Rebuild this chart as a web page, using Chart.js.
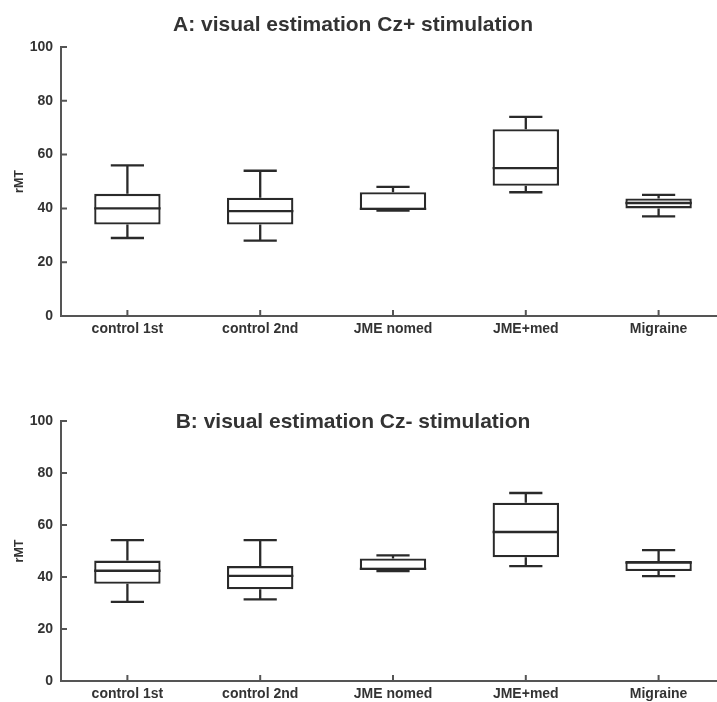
<!DOCTYPE html>
<html>
<head>
<meta charset="utf-8">
<title>rMT visual estimation</title>
<script src="https://cdn.jsdelivr.net/npm/chart.js@4.4.0/dist/chart.umd.min.js"></script>
<style>
  html, body { margin: 0; padding: 0; background: #fff; }
  #wrap { width: 717px; height: 702px; overflow: hidden; position: relative; }
  .panel { width: 725px; height: 351px; }
  canvas { display: block; }
</style>
</head>
<body>
<div id="wrap">
  <div class="panel"><canvas id="chartA" width="725" height="351"></canvas></div>
  <div class="panel"><canvas id="chartB" width="725" height="351"></canvas></div>
</div>
<script>
// Groups and axis ticks
const groups = ['control 1st', 'control 2nd', 'JME nomed', 'JME+med', 'Migraine'];
const yTicks = [0, 20, 40, 60, 80, 100];

// A: Cz+ stimulation
const minA = [29, 28, 39.2, 46, 37];
const q1A = [34, 34, 39.4, 48.4, 40];
const medA = [40, 39, 39.8, 55, 42];
const q3A = [45.4, 44, 46, 69.4, 43.7];
const maxA = [56, 54, 48, 74, 45];

// B: Cz- stimulation
const minB = [30.4, 31.4, 42.3, 44.2, 40.3];
const q1B = [37.4, 35.3, 42.7, 47.6, 42.3];
const medB = [42.4, 40.4, 43.1, 57.3, 45.5];
const q3B = [46.3, 44.2, 47.1, 68.6, 46.2];
const maxB = [54.2, 54.2, 48.3, 72.3, 50.3];

const INK = '#2a2a2a';
const TEXT = '#333';

Chart.defaults.font.family = "'Liberation Sans', Arial, sans-serif";
Chart.defaults.font.weight = 'bold';
Chart.defaults.color = TEXT;

// Whiskers, medians and the inward tick marks
const boxExtras = {
    id: 'boxExtras',
    afterDatasetsDraw(chart) {
        const ds = chart.data.datasets[0];
        const meta = chart.getDatasetMeta(0);
        const yScale = chart.scales.y;
        const xScale = chart.scales.x;
        const area = chart.chartArea;
        const ctx = chart.ctx;

        ctx.save();
        ctx.strokeStyle = INK;
        ctx.lineWidth = 2.3;
        ctx.beginPath();
        meta.data.forEach((bar, i) => {
            const half = bar.width / 2;
            const cap = bar.width / 4;
            const x = bar.x;
            const yMin = yScale.getPixelForValue(ds.whiskerMin[i]);
            const yMax = yScale.getPixelForValue(ds.whiskerMax[i]);
            const yQ1 = yScale.getPixelForValue(ds.data[i][0]);
            const yQ3 = yScale.getPixelForValue(ds.data[i][1]);
            const yMed = yScale.getPixelForValue(ds.median[i]);

            ctx.moveTo(x, yQ3); ctx.lineTo(x, yMax);
            ctx.moveTo(x - cap, yMax); ctx.lineTo(x + cap, yMax);
            ctx.moveTo(x, yQ1); ctx.lineTo(x, yMin);
            ctx.moveTo(x - cap, yMin); ctx.lineTo(x + cap, yMin);
            ctx.moveTo(x - half, yMed); ctx.lineTo(x + half, yMed);
        });
        ctx.stroke();

        ctx.strokeStyle = '#555';
        ctx.lineWidth = 2;
        ctx.beginPath();
        yScale.ticks.forEach(t => {
            const py = yScale.getPixelForValue(t.value);
            ctx.moveTo(area.left, py); ctx.lineTo(area.left + 6, py);
        });
        xScale.ticks.forEach((t, i) => {
            const px = xScale.getPixelForTick(i);
            ctx.moveTo(px, area.bottom); ctx.lineTo(px, area.bottom - 6);
        });
        ctx.stroke();
        ctx.restore();
    }
};

// Panel heading drawn at a fixed spot
const panelTitle = {
    id: 'panelTitle',
    afterDraw(chart, args, opts) {
        const ctx = chart.ctx;
        ctx.save();
        ctx.font = "bold 21px 'Liberation Sans', Arial, sans-serif";
        ctx.fillStyle = TEXT;
        ctx.textAlign = 'center';
        ctx.textBaseline = 'alphabetic';
        ctx.fillText(opts.text, opts.x, opts.y);
        ctx.restore();
    }
};

function createPanel(canvasId, title, mins, q1s, meds, q3s, maxs, layout) {
    const ctx = document.getElementById(canvasId).getContext('2d');
    return new Chart(ctx, {
        type: 'bar',
        data: {
            labels: groups,
            datasets: [{
                data: q1s.map((q, i) => [q, q3s[i]]),
                whiskerMin: mins,
                whiskerMax: maxs,
                median: meds,
                backgroundColor: '#fff',
                borderColor: INK,
                borderWidth: 2.3,
                borderSkipped: false,
                barPercentage: 0.5,
                categoryPercentage: 1
            }]
        },
        options: {
            responsive: false,
            animation: false,
            layout: { padding: { top: layout.top, right: 0, bottom: 0, left: 0 } },
            plugins: {
                legend: { display: false },
                tooltip: { enabled: false },
                panelTitle: { text: title, x: 353, y: layout.titleY }
            },
            scales: {
                x: {
                    type: 'category',
                    offset: true,
                    grid: { display: false, drawTicks: false },
                    border: { display: true, color: '#555', width: 2 },
                    ticks: { padding: 5, font: { size: 14, weight: 'bold' }, color: TEXT, maxRotation: 0 },
                    afterFit: s => { s.height = layout.xHeight; }
                },
                y: {
                    min: 0,
                    max: 100,
                    grid: { display: false, drawTicks: false },
                    border: { display: true, color: '#555', width: 2 },
                    ticks: { padding: 8, font: { size: 14, weight: 'bold' }, color: TEXT },
                    afterBuildTicks: s => { s.ticks = yTicks.map(v => ({ value: v })); },
                    title: {
                        display: true,
                        text: 'rMT',
                        font: { size: 12.5, weight: 'bold' },
                        color: TEXT,
                        padding: { top: 12, bottom: 0 }
                    },
                    afterFit: s => { s.width = 61; }
                }
            }
        },
        plugins: [boxExtras, panelTitle]
    });
}

createPanel('chartA', 'A: visual estimation Cz+ stimulation', minA, q1A, medA, q3A, maxA,
    { top: 47, xHeight: 35, titleY: 31 });
createPanel('chartB', 'B: visual estimation Cz- stimulation', minB, q1B, medB, q3B, maxB,
    { top: 70, xHeight: 21, titleY: 77 });
</script>
</body>
</html>
